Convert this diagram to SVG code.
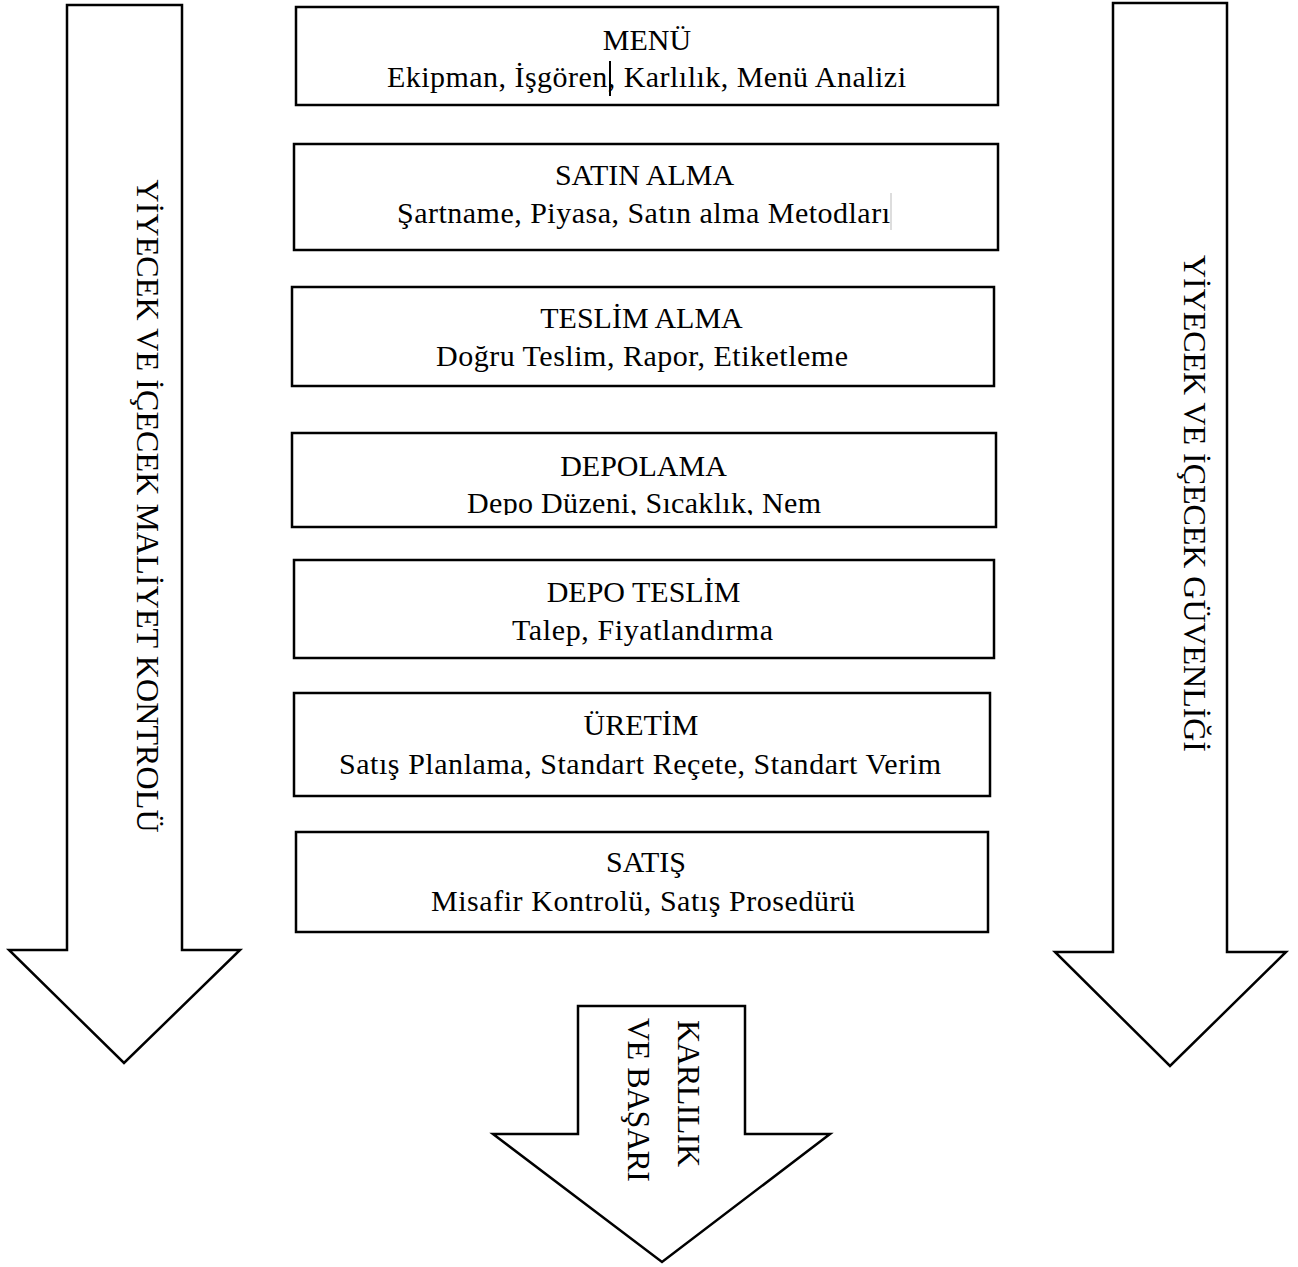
<svg xmlns="http://www.w3.org/2000/svg" width="1298" height="1267" viewBox="0 0 1298 1267">
<style>
.box{fill:#fff;stroke:#000;stroke-width:2.5}
.arr{fill:#fff;stroke:#000;stroke-width:2.5;stroke-linejoin:miter}
.t{font-family:"Liberation Serif","Times New Roman",serif;font-size:30px;fill:#000;text-anchor:middle}
.v{font-family:"Liberation Serif","Times New Roman",serif;font-size:32px;fill:#000}
</style>
<defs>
<clipPath id="clipDepo"><rect x="292" y="433" width="704" height="82"/></clipPath>
</defs>
<rect width="1298" height="1267" fill="#fff"/>
<g id="connectors">
<g id="arrow-maliyet">
<polygon class="arr" points="67,5 182,5 182,950 240,950 124,1063 9,950 67,950"/>
<text class="v" transform="translate(137,506) rotate(90)" text-anchor="middle" textLength="653">YİYECEK VE İÇECEK MALİYET KONTROLÜ</text>
</g>
<g id="arrow-guvenlik">
<polygon class="arr" points="1113,3 1227,3 1227,952 1286,952 1170,1066 1055,952 1113,952"/>
<text class="v" transform="translate(1184,503.5) rotate(90)" text-anchor="middle" textLength="497">YİYECEK VE İÇECEK GÜVENLİĞİ</text>
</g>
<g id="arrow-karlilik">
<polygon class="arr" points="578,1006 745,1006 745,1134 830,1134 662,1262 493,1134 578,1134"/>
<text class="v" transform="translate(678,1020) rotate(90)" textLength="147">KARLILIK</text>
<text class="v" transform="translate(628,1018) rotate(90)" textLength="164">VE BAŞARI</text>
</g>
</g>
<g id="node-menu">
<rect class="box" x="296" y="7" width="702" height="98"/>
<text class="t" x="647" y="50">MENÜ</text>
<text class="t" x="646.5" y="87" textLength="519">Ekipman, İşgören, Karlılık, Menü Analizi</text>
<line x1="610" y1="61" x2="610" y2="96" stroke="#000" stroke-width="2"/>
</g>
<g id="node-satinalma">
<rect class="box" x="294" y="144" width="704" height="106"/>
<text class="t" x="644.5" y="185">SATIN ALMA</text>
<text class="t" x="643.5" y="223" textLength="493">Şartname, Piyasa, Satın alma Metodları</text>
<line x1="891" y1="193" x2="891" y2="230" stroke="#bbb" stroke-width="1"/>
</g>
<g id="node-teslimalma">
<rect class="box" x="292" y="287" width="702" height="99"/>
<text class="t" x="641.5" y="328">TESLİM ALMA</text>
<text class="t" x="642" y="366" textLength="412">Doğru Teslim, Rapor, Etiketleme</text>
</g>
<g id="node-depolama">
<rect class="box" x="292" y="433" width="704" height="94"/>
<text class="t" x="643.5" y="476">DEPOLAMA</text>
<text class="t" x="644" y="513" textLength="354" clip-path="url(#clipDepo)">Depo Düzeni, Sıcaklık, Nem</text>
</g>
<g id="node-depoteslim">
<rect class="box" x="294" y="560" width="700" height="98"/>
<text class="t" x="643.5" y="602">DEPO TESLİM</text>
<text class="t" x="642.5" y="640" textLength="261">Talep, Fiyatlandırma</text>
</g>
<g id="node-uretim">
<rect class="box" x="294" y="693" width="696" height="103"/>
<text class="t" x="641" y="735">ÜRETİM</text>
<text class="t" x="640" y="774" textLength="602">Satış Planlama, Standart Reçete, Standart Verim</text>
</g>
<g id="node-satis">
<rect class="box" x="296" y="832" width="692" height="100"/>
<text class="t" x="646" y="872">SATIŞ</text>
<text class="t" x="643" y="911" textLength="424">Misafir Kontrolü, Satış Prosedürü</text>
</g>
</svg>
